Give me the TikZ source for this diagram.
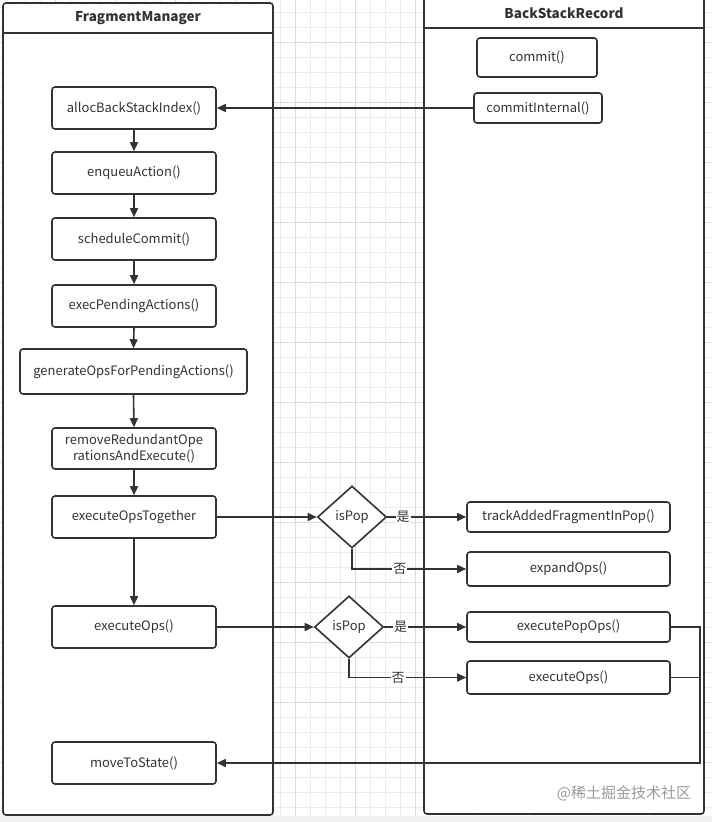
\documentclass[tikz,border=0pt]{standalone}
\usepackage{fontspec}
\setmainfont{Noto Sans CJK SC}
\usetikzlibrary{arrows.meta,shapes.geometric}
\definecolor{ln}{HTML}{333333}
\definecolor{gridc}{HTML}{EBEBEB}
\definecolor{gridm}{HTML}{DCDCDC}
\definecolor{wm}{HTML}{9A9A9A}
\begin{document}
\begin{tikzpicture}[x=1pt,y=-1pt,
  box/.style={draw=ln,line width=1.6pt,rounded corners=3pt,fill=white,
    font=\fontsize{13}{15}\selectfont,text=ln,inner sep=0pt,align=center,
    minimum width=164pt,minimum height=42pt},
  dec/.style={draw=ln,line width=1.6pt,diamond,fill=white,inner sep=0pt,
    font=\fontsize{13}{15}\selectfont,text=ln,minimum width=69pt,minimum height=62pt},
  lane/.style={draw=ln,line width=1.6pt,rounded corners=3pt,fill=white},
  ttl/.style={font=\fontsize{13.5}{15}\selectfont\bfseries,text=ln},
  conn/.style={draw=ln,line width=1.6pt,-{Triangle[length=9pt,width=8pt]}},
  plain/.style={draw=ln,line width=1.6pt},
  lbl/.style={fill=white,inner sep=1pt,font=\fontsize{13}{15}\selectfont,text=ln}]
\useasboundingbox (0,0) rectangle (712,822);
\fill[white] (0,0) rectangle (712,822);
% grid
\foreach \gx in {10,25,...,712} {\draw[gridc,line width=0.6pt] (\gx,0) -- (\gx,822);}
\foreach \gy in {12,27,...,822} {\draw[gridc,line width=0.6pt] (0,\gy) -- (712,\gy);}
\foreach \gx in {55,115,...,712} {\draw[gridm,line width=0.6pt] (\gx,0) -- (\gx,822);}
\foreach \gy in {42,102,...,822} {\draw[gridm,line width=0.6pt] (0,\gy) -- (712,\gy);}
\fill[gray!12] (0,816) rectangle (712,822);
% lanes
\draw[lane] (3,3) rectangle (273,815);
\draw[plain] (3,33) -- (273,33);
\node[ttl] (fmt) at (138,18) {FragmentManager};
\draw[lane] (424,-5) rectangle (704,814);
\draw[plain] (424,28) -- (704,28);
\node[ttl] (bsr) at (564,13) {BackStackRecord};
% left lane nodes
\node[box] (alloc) at (134,108) {allocBackStackIndex()};
\node[box] (enq) at (134,173) {enqueuAction()};
\node[box] (sched) at (134,239) {scheduleCommit()};
\node[box] (execp) at (134,306) {execPendingActions()};
\node[box,minimum width=227pt,minimum height=45pt] (gen) at (133.5,371.5) {generateOpsForPendingActions()};
\node[box,minimum height=41pt,font=\fontsize{13}{16}\selectfont] (rem) at (134,448.5) {removeRedundantOpe\\rationsAndExecute()};
\node[box] (eot) at (134,517) {executeOpsTogether};
\node[box] (eops) at (134,627) {executeOps()};
\node[box] (move) at (134,763) {moveToState()};
% right lane nodes
\node[box,minimum width=120pt,minimum height=39pt] (commit) at (537,57.5) {commit()};
\node[box,minimum width=128pt,minimum height=30pt] (ci) at (538,108) {commitInternal()};
\node[dec] (d1) at (352,517) {isPop};
\node[dec] (d2) at (349,627) {isPop};
\node[box,minimum width=203pt,minimum height=30pt] (track) at (568.5,517) {trackAddedFragmentInPop()};
\node[box,minimum width=203pt,minimum height=34pt] (expand) at (568.5,569) {expandOps()};
\node[box,minimum width=203pt,minimum height=30pt] (epop) at (568.5,627) {executePopOps()};
\node[box,minimum width=203pt,minimum height=33pt] (eops2) at (568.5,677.5) {executeOps()};
\coordinate (rt) at (700,763);
% connectors
\draw[conn] (ci.west) -- (alloc.east);
\draw[conn] (alloc.south) -- (enq.north);
\draw[conn] (enq.south) -- (sched.north);
\draw[conn] (sched.south) -- (execp.north);
\draw[conn] (execp.south) -- (gen.north);
\draw[conn] (gen.south) -- (rem.north);
\draw[conn] (rem.south) -- (eot.north);
\draw[conn] (eot.south) -- (eops.north);
\draw[conn] (eot.east) -- (d1.west);
\draw[conn] (eops.east) -- (d2.west);
\draw[conn] (d1.east) -- node[lbl,pos=0.2] {是} (track.west);
\draw[conn] (d1.south) |- node[lbl,pos=0.71] {否} (expand.west);
\draw[conn] (d2.east) -- node[lbl,pos=0.2] {是} (d2.east -| epop.west);
\draw[conn] (d2.south) |- node[lbl,pos=0.71] {否} (eops2.west);
\draw[plain] (eops2.east) -- (eops2.east -| rt);
\draw[conn] (epop.east) -| (rt) -- (move.east);
% watermark
\node[text=wm,font=\fontsize{15}{17}\selectfont] (wmk) at (624,793) {@稀土掘金技术社区};
\end{tikzpicture}
\end{document}
